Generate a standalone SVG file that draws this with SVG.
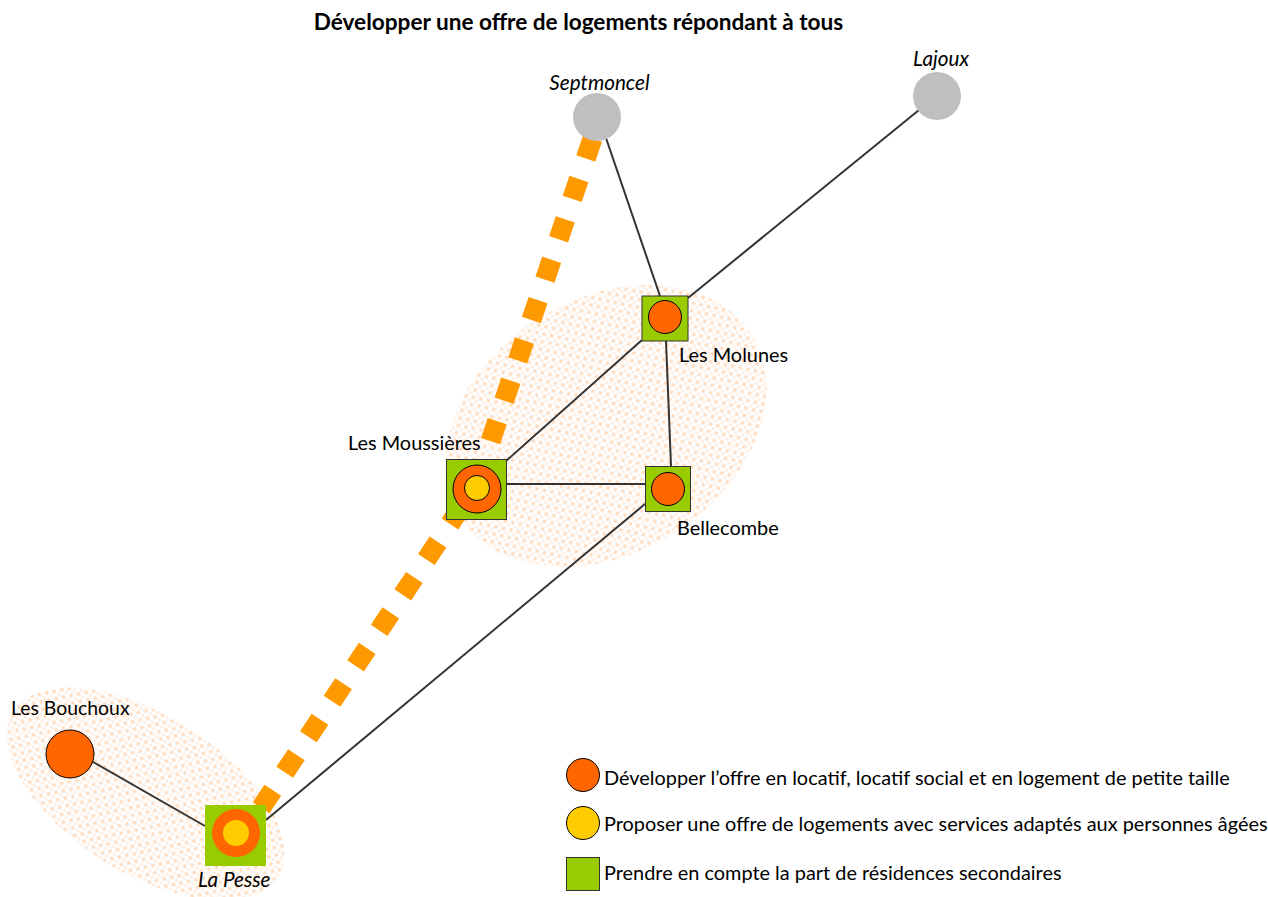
<svg xmlns="http://www.w3.org/2000/svg" width="1268" height="897" viewBox="0 0 1268 897">
<style>
text{font-family:Lato,"Liberation Sans",sans-serif;font-size:19.900px;fill:#000}
.i{font-style:italic;font-size:20.700px}
.b{font-weight:bold;font-size:22.600px}
.c{fill:none;stroke:#333;stroke-width:2}
.d{fill:none;stroke:#f90;stroke-width:20;stroke-dasharray:21 21.600}
.o{fill:#f60;stroke:#000;stroke-width:1}
.y{fill:#fc0;stroke:#000;stroke-width:1}
.s{fill:#9c0;stroke:#333;stroke-width:1}
.g{fill:#bfbfbf}
.p1{fill:#ffefe3}
.p2{fill:#fed8b8}
</style>
<defs>
<pattern id="dots" width="11" height="10.600" patternUnits="userSpaceOnUse">
<circle class="p1" cx="2.750" cy="2.650" r="2.500"/><circle class="p2" cx="2.750" cy="2.650" r="1.300"/>
<circle class="p1" cx="8.250" cy="7.950" r="2.500"/><circle class="p2" cx="8.250" cy="7.950" r="1.300"/>
<circle class="p1" cx="8.250" cy="2.650" r="1.800"/><circle class="p1" cx="2.750" cy="7.950" r="1.800"/>
</pattern>
</defs>
<g id="zones">
<ellipse cx="606" cy="426" rx="172" ry="127" transform="rotate(-32 606 426)" fill="url(#dots)"/>
<ellipse cx="145.500" cy="794" rx="156" ry="79" transform="rotate(32 145.500 794)" fill="url(#dots)"/>
</g>
<g id="connectors">
<path class="d" d="M592.500 138.600L470 502"/>
<path class="d" d="M461.600 506.500L243 835"/>
<path class="c" d="M606 138L660 296"/>
<path class="c" d="M919 110L688 298"/>
<path class="c" d="M642 340L506 461"/>
<path class="c" d="M666 341L671 466"/>
<path class="c" d="M507 484H645"/>
<path class="c" d="M645 504L266 820"/>
<path class="c" d="M93 762L205 826"/>
</g>
<text class="b" x="578.500" y="30" text-anchor="middle">Développer une offre de logements répondant à tous</text>
<g id="septmoncel"><circle class="g" cx="597" cy="117" r="24"/><text class="i" x="599.500" y="90" text-anchor="middle">Septmoncel</text></g>
<g id="lajoux"><circle class="g" cx="937" cy="96" r="24"/><text class="i" x="941" y="66" text-anchor="middle">Lajoux</text></g>
<g id="les-molunes"><rect class="s" x="642" y="296" width="46" height="45"/><circle class="o" cx="665" cy="317" r="16.500"/><text x="679" y="362">Les Molunes</text></g>
<g id="bellecombe"><rect class="s" x="645.500" y="466.500" width="45" height="45"/><circle class="o" cx="668" cy="489" r="16.500"/><text x="677" y="535">Bellecombe</text></g>
<g id="les-moussieres"><rect class="s" x="446.500" y="459.500" width="60" height="60"/><circle class="o" cx="477" cy="489" r="24"/><circle class="y" cx="477" cy="488" r="12.500"/><text x="348" y="450">Les Moussières</text></g>
<g id="les-bouchoux"><circle class="o" cx="70" cy="754" r="24"/><text x="11" y="715" style="font-size:19.400px">Les Bouchoux</text></g>
<g id="la-pesse"><rect fill="#9c0" x="205" y="805" width="61" height="61"/><circle fill="#f60" cx="236" cy="833" r="24"/><circle fill="#fc0" cx="236" cy="833" r="13"/><text class="i" x="198" y="887">La Pesse</text></g>
<g id="legend">
<circle class="o" cx="583" cy="775" r="16.500"/><text x="604" y="785">Développer l’offre en locatif, locatif social et en logement de petite taille</text>
<circle class="y" cx="583" cy="823" r="16.500"/><text x="604" y="831">Proposer une offre de logements avec services adaptés aux personnes âgées</text>
<rect class="s" x="566.500" y="857.500" width="33" height="33"/><text x="604" y="880">Prendre en compte la part de résidences secondaires</text>
</g>
</svg>
